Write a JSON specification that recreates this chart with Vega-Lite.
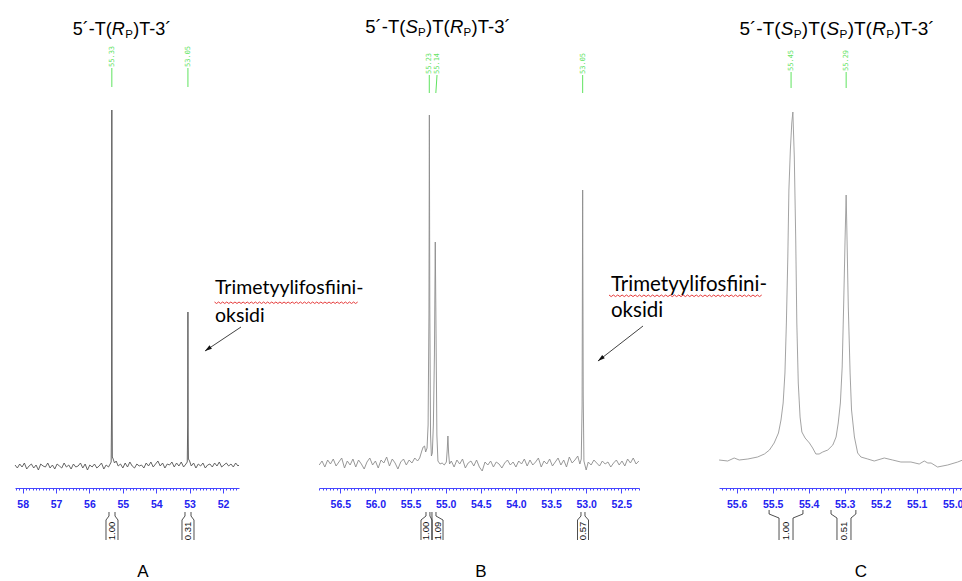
{
"$schema": "https://vega.github.io/schema/vega-lite/v6.json",
"padding": {"left": 13, "top": 0, "right": 0, "bottom": 0},
"autosize": {"type": "pad"},
"spacing": 80,
"bounds": "flush",
"resolve": {"scale": {"x": "independent", "y": "independent"}},
"config": {
  "view": {"stroke": null},
  "font": "Liberation Sans",
  "axisX": {"domainColor": "#4646ff", "tickColor": "#4646ff", "labelColor": "#2323f0", "labelFont": "Liberation Sans", "labelFontWeight": "bold", "labelFontSize": 10.5, "grid": false, "labelOverlap": false, "labelFlush": false, "labelPadding": 6, "domainWidth": 1, "tickWidth": 1}
},
"datasets": {
  "specA": [{"p":58.23,"v":0},{"p":58.16,"v":-3},{"p":58.09,"v":1},{"p":58.02,"v":-2},{"p":57.95,"v":2},{"p":57.88,"v":-4},{"p":57.81,"v":-1},{"p":57.74,"v":1},{"p":57.67,"v":-3},{"p":57.60,"v":0},{"p":57.53,"v":-5},{"p":57.46,"v":1},{"p":57.39,"v":-1},{"p":57.32,"v":-2},{"p":57.25,"v":2},{"p":57.18,"v":-3},{"p":57.11,"v":0},{"p":57.04,"v":-4},{"p":56.97,"v":1},{"p":56.90,"v":-1},{"p":56.83,"v":-3},{"p":56.76,"v":2},{"p":56.69,"v":-2},{"p":56.62,"v":0},{"p":56.55,"v":-4},{"p":56.48,"v":1},{"p":56.41,"v":-2},{"p":56.34,"v":-1},{"p":56.27,"v":2},{"p":56.20,"v":-3},{"p":56.13,"v":1},{"p":56.06,"v":-5},{"p":55.99,"v":0},{"p":55.92,"v":-2},{"p":55.85,"v":1},{"p":55.78,"v":-3},{"p":55.71,"v":-1},{"p":55.64,"v":2},{"p":55.57,"v":-4},{"p":55.50,"v":0},{"p":55.43,"v":-2},{"p":55.38,"v":1},{"p":55.35,"v":3},{"p":55.337,"v":60},{"p":55.33,"v":355},{"p":55.323,"v":80},{"p":55.315,"v":8},{"p":55.29,"v":6},{"p":55.25,"v":2},{"p":55.20,"v":4},{"p":55.14,"v":-1},{"p":55.07,"v":1},{"p":55.00,"v":-3},{"p":54.93,"v":2},{"p":54.86,"v":-2},{"p":54.79,"v":3},{"p":54.72,"v":-1},{"p":54.65,"v":-3},{"p":54.58,"v":1},{"p":54.51,"v":-1},{"p":54.44,"v":0},{"p":54.37,"v":-3},{"p":54.30,"v":2},{"p":54.23,"v":-1},{"p":54.16,"v":3},{"p":54.09,"v":-2},{"p":54.02,"v":1},{"p":53.95,"v":4},{"p":53.88,"v":-1},{"p":53.81,"v":2},{"p":53.74,"v":-3},{"p":53.67,"v":1},{"p":53.60,"v":0},{"p":53.53,"v":3},{"p":53.46,"v":-2},{"p":53.39,"v":2},{"p":53.32,"v":-1},{"p":53.25,"v":3},{"p":53.18,"v":-2},{"p":53.11,"v":1},{"p":53.07,"v":3},{"p":53.057,"v":40},{"p":53.05,"v":153},{"p":53.043,"v":35},{"p":53.035,"v":6},{"p":53.00,"v":4},{"p":52.95,"v":-1},{"p":52.88,"v":2},{"p":52.81,"v":-3},{"p":52.74,"v":1},{"p":52.67,"v":-1},{"p":52.60,"v":2},{"p":52.53,"v":-3},{"p":52.46,"v":0},{"p":52.39,"v":1},{"p":52.32,"v":-2},{"p":52.25,"v":2},{"p":52.18,"v":-1},{"p":52.11,"v":3},{"p":52.04,"v":-2},{"p":51.97,"v":0},{"p":51.90,"v":2},{"p":51.83,"v":-1},{"p":51.76,"v":1},{"p":51.69,"v":-2},{"p":51.62,"v":2},{"p":51.55,"v":-1},{"p":51.52,"v":0}],
  "specB": [{"p":56.80,"v":0},{"p":56.76,"v":4},{"p":56.72,"v":-2},{"p":56.68,"v":5},{"p":56.64,"v":1},{"p":56.60,"v":6},{"p":56.56,"v":-1},{"p":56.52,"v":3},{"p":56.48,"v":7},{"p":56.44,"v":-3},{"p":56.40,"v":4},{"p":56.36,"v":0},{"p":56.32,"v":6},{"p":56.28,"v":-2},{"p":56.24,"v":5},{"p":56.20,"v":1},{"p":56.16,"v":-4},{"p":56.12,"v":3},{"p":56.08,"v":7},{"p":56.04,"v":0},{"p":56.00,"v":4},{"p":55.96,"v":-3},{"p":55.92,"v":5},{"p":55.88,"v":2},{"p":55.84,"v":8},{"p":55.80,"v":-1},{"p":55.76,"v":6},{"p":55.72,"v":2},{"p":55.68,"v":-4},{"p":55.64,"v":3},{"p":55.60,"v":6},{"p":55.56,"v":0},{"p":55.52,"v":5},{"p":55.48,"v":2},{"p":55.44,"v":7},{"p":55.40,"v":4},{"p":55.37,"v":7},{"p":55.34,"v":14},{"p":55.32,"v":18},{"p":55.30,"v":19},{"p":55.285,"v":13},{"p":55.265,"v":17},{"p":55.25,"v":40},{"p":55.238,"v":150},{"p":55.232,"v":350},{"p":55.226,"v":160},{"p":55.215,"v":30},{"p":55.203,"v":9},{"p":55.19,"v":12},{"p":55.175,"v":40},{"p":55.16,"v":110},{"p":55.148,"v":223},{"p":55.138,"v":140},{"p":55.125,"v":30},{"p":55.11,"v":4},{"p":55.08,"v":1},{"p":55.05,"v":2},{"p":55.02,"v":0},{"p":54.99,"v":3},{"p":54.978,"v":15},{"p":54.968,"v":29},{"p":54.958,"v":12},{"p":54.945,"v":1},{"p":54.92,"v":4},{"p":54.88,"v":-2},{"p":54.84,"v":5},{"p":54.80,"v":1},{"p":54.76,"v":6},{"p":54.72,"v":-3},{"p":54.68,"v":2},{"p":54.64,"v":4},{"p":54.60,"v":-1},{"p":54.56,"v":5},{"p":54.52,"v":-2},{"p":54.48,"v":-6},{"p":54.44,"v":3},{"p":54.40,"v":0},{"p":54.36,"v":4},{"p":54.32,"v":-2},{"p":54.28,"v":3},{"p":54.24,"v":1},{"p":54.20,"v":-3},{"p":54.16,"v":2},{"p":54.12,"v":5},{"p":54.08,"v":0},{"p":54.04,"v":3},{"p":54.00,"v":-2},{"p":53.96,"v":4},{"p":53.92,"v":1},{"p":53.88,"v":6},{"p":53.84,"v":-1},{"p":53.80,"v":5},{"p":53.76,"v":0},{"p":53.72,"v":3},{"p":53.68,"v":7},{"p":53.64,"v":-2},{"p":53.60,"v":4},{"p":53.56,"v":1},{"p":53.52,"v":6},{"p":53.48,"v":-1},{"p":53.44,"v":3},{"p":53.40,"v":7},{"p":53.36,"v":0},{"p":53.32,"v":5},{"p":53.28,"v":-2},{"p":53.24,"v":8},{"p":53.20,"v":2},{"p":53.16,"v":5},{"p":53.12,"v":9},{"p":53.09,"v":1},{"p":53.07,"v":6},{"p":53.058,"v":60},{"p":53.05,"v":275},{"p":53.042,"v":70},{"p":53.032,"v":4},{"p":53.00,"v":-5},{"p":52.97,"v":3},{"p":52.93,"v":0},{"p":52.89,"v":5},{"p":52.85,"v":2},{"p":52.81,"v":-1},{"p":52.77,"v":4},{"p":52.73,"v":1},{"p":52.69,"v":3},{"p":52.65,"v":-2},{"p":52.61,"v":2},{"p":52.57,"v":5},{"p":52.53,"v":0},{"p":52.49,"v":4},{"p":52.45,"v":-1},{"p":52.41,"v":6},{"p":52.37,"v":2},{"p":52.33,"v":7},{"p":52.29,"v":1},{"p":52.25,"v":4}],
  "specC": [{"p":55.649,"v":5},{"p":55.625,"v":4},{"p":55.607,"v":7},{"p":55.593,"v":5},{"p":55.569,"v":6},{"p":55.542,"v":8},{"p":55.523,"v":11},{"p":55.509,"v":15},{"p":55.496,"v":22},{"p":55.484,"v":32},{"p":55.477,"v":45},{"p":55.471,"v":62},{"p":55.466,"v":92},{"p":55.462,"v":142},{"p":55.458,"v":208},{"p":55.455,"v":275},{"p":55.451,"v":315},{"p":55.447,"v":342},{"p":55.444,"v":353},{"p":55.440,"v":308},{"p":55.436,"v":225},{"p":55.433,"v":142},{"p":55.429,"v":82},{"p":55.424,"v":48},{"p":55.419,"v":33},{"p":55.410,"v":27},{"p":55.398,"v":22},{"p":55.389,"v":17},{"p":55.380,"v":11},{"p":55.371,"v":11},{"p":55.361,"v":13},{"p":55.347,"v":15},{"p":55.333,"v":20},{"p":55.324,"v":28},{"p":55.318,"v":42},{"p":55.312,"v":62},{"p":55.307,"v":98},{"p":55.303,"v":158},{"p":55.299,"v":225},{"p":55.296,"v":270},{"p":55.294,"v":235},{"p":55.290,"v":158},{"p":55.285,"v":92},{"p":55.281,"v":55},{"p":55.273,"v":28},{"p":55.264,"v":12},{"p":55.255,"v":8},{"p":55.236,"v":6},{"p":55.218,"v":4},{"p":55.190,"v":7},{"p":55.167,"v":5},{"p":55.144,"v":3},{"p":55.116,"v":3},{"p":55.093,"v":1},{"p":55.079,"v":4},{"p":55.069,"v":2},{"p":55.060,"v":2},{"p":55.042,"v":-2},{"p":55.014,"v":0},{"p":54.986,"v":3},{"p":54.972,"v":5},{"p":54.956,"v":6}],
  "peaksA": [{"p":55.33,"lp":55.33,"t":"55.33"},{"p":53.05,"lp":53.05,"t":"53.05"}],
  "peaksB": [{"p":55.233,"lp":55.233,"t":"55.23"},{"p":55.14,"lp":55.123,"t":"55.14"},{"p":53.05,"lp":53.05,"t":"53.05"}],
  "peaksC": [{"p":55.449,"lp":55.449,"t":"55.45"},{"p":55.296,"lp":55.296,"t":"55.29"}],
  "intA": [{"from":55.415,"to":55.235,"c":55.325,"t":"1.00"},{"from":53.138,"to":52.958,"c":53.048,"t":"0.31"}],
  "intB": [{"from":55.28,"to":55.224,"c":55.273,"t":"1.00"},{"from":55.195,"to":55.138,"c":55.116,"t":"1.09"},{"from":53.074,"to":53.017,"c":53.045,"t":"0.57"}],
  "intC": [{"from":55.51,"to":55.416,"c":55.463,"t":"1.00"},{"from":55.338,"to":55.269,"c":55.302,"t":"0.51"}],
  "titleA": [{"p":55.329,"v":430}],
  "titleB": [{"p":55.573,"v":432}],
  "titleC": [{"p":55.478,"v":430}]
},
"hconcat": [
{
  "width": 224, "height": 488,
  "layer": [
    {"data":{"name":"specA"},"mark":{"type":"line","stroke":"#555555","strokeWidth":0.9},
     "encoding":{"x":{"field":"p","type":"quantitative","scale":{"domain":[51.52,58.231],"reverse":true,"nice":false,"zero":false},
       "axis":{"title":null,"tickCount":70,"labelExpr":"datum.value % 1 === 0 ? format(datum.value, 'd') : ''","tickSize":{"condition":{"test":"datum.value % 1 === 0","value":5},"value":2}}},
       "y":{"field":"v","type":"quantitative","scale":{"domain":[-23,465],"nice":false,"zero":false},"axis":null}}},
    {"data":{"name":"peaksA"},"mark":{"type":"text","angle":270,"align":"left","baseline":"middle","font":"DejaVu Sans Mono","fontSize":7,"fill":"#5fe35f"},
     "encoding":{"x":{"field":"lp","type":"quantitative"},"y":{"datum":398,"type":"quantitative","axis":null},"text":{"field":"t","type":"nominal"}}},
    {"data":{"name":"peaksA"},"mark":{"type":"rule","stroke":"#5fe35f","strokeWidth":1},
     "encoding":{"x":{"field":"lp","type":"quantitative"},"x2":{"field":"p"},"y":{"datum":397,"type":"quantitative","axis":null},"y2":{"datum":378}}},
    {"data":{"name":"intA"},"mark":{"type":"rule","stroke":"#222","strokeWidth":0.8},
     "encoding":{"x":{"field":"from","type":"quantitative"},"y":{"datum":-47,"type":"quantitative","axis":null},"y2":{"datum":-51}}},
    {"data":{"name":"intA"},"mark":{"type":"rule","stroke":"#222","strokeWidth":0.8},
     "encoding":{"x":{"field":"to","type":"quantitative"},"y":{"datum":-47,"type":"quantitative","axis":null},"y2":{"datum":-51}}},
    {"data":{"name":"intA"},"mark":{"type":"rule","stroke":"#222","strokeWidth":0.8,"x2Offset":-6},
     "encoding":{"x":{"field":"from","type":"quantitative"},"x2":{"field":"c"},"y":{"datum":-51,"type":"quantitative","axis":null},"y2":{"datum":-55}}},
    {"data":{"name":"intA"},"mark":{"type":"rule","stroke":"#222","strokeWidth":0.8,"x2Offset":6},
     "encoding":{"x":{"field":"to","type":"quantitative"},"x2":{"field":"c"},"y":{"datum":-51,"type":"quantitative","axis":null},"y2":{"datum":-55}}},
    {"data":{"name":"intA"},"mark":{"type":"rule","stroke":"#222","strokeWidth":0.8,"xOffset":-6,"x2Offset":-6},
     "encoding":{"x":{"field":"c","type":"quantitative"},"x2":{"field":"c"},"y":{"datum":-55,"type":"quantitative","axis":null},"y2":{"datum":-75}}},
    {"data":{"name":"intA"},"mark":{"type":"rule","stroke":"#222","strokeWidth":0.8,"xOffset":6,"x2Offset":6},
     "encoding":{"x":{"field":"c","type":"quantitative"},"x2":{"field":"c"},"y":{"datum":-55,"type":"quantitative","axis":null},"y2":{"datum":-75}}},
    {"data":{"name":"intA"},"mark":{"type":"text","angle":270,"align":"center","baseline":"middle","fontSize":9.5,"fill":"#111"},
     "encoding":{"x":{"field":"c","type":"quantitative"},"y":{"datum":-66,"type":"quantitative","axis":null},"text":{"field":"t","type":"nominal"}}},
    {"data":{"name":"titleA"},"mark":{"type":"text","text":"5´-T(","align":"right","baseline":"alphabetic","fontSize":18,"fill":"#000"},
     "encoding":{"x":{"field":"p","type":"quantitative"},"y":{"field":"v","type":"quantitative","axis":null}}},
    {"data":{"name":"titleA"},"mark":{"type":"text","text":"R","fontStyle":"italic","align":"left","baseline":"alphabetic","fontSize":18,"fill":"#000"},
     "encoding":{"x":{"field":"p","type":"quantitative"},"y":{"field":"v","type":"quantitative","axis":null}}},
    {"data":{"name":"titleA"},"mark":{"type":"text","text":"P","align":"left","baseline":"alphabetic","fontSize":11.5,"dx":13.3,"dy":3,"fill":"#000"},
     "encoding":{"x":{"field":"p","type":"quantitative"},"y":{"field":"v","type":"quantitative","axis":null}}},
    {"data":{"name":"titleA"},"mark":{"type":"text","text":")T-3´","align":"left","baseline":"alphabetic","fontSize":18,"dx":21.3,"fill":"#000"},
     "encoding":{"x":{"field":"p","type":"quantitative"},"y":{"field":"v","type":"quantitative","axis":null}}},
    {"data":{"values":[{"p":54.396,"v":-112,"t":"A"}]},"mark":{"type":"text","align":"center","baseline":"alphabetic","fontSize":17,"fill":"#000"},
     "encoding":{"x":{"field":"p","type":"quantitative"},"y":{"field":"v","type":"quantitative","axis":null},"text":{"field":"t","type":"nominal"}}},
    {"data":{"values":[{"p":52.239,"v":171,"t":"Trimetyylifosfiini-"},{"p":52.239,"v":143,"t":"oksidi"}]},"mark":{"type":"text","align":"left","baseline":"alphabetic","font":"Lato","fontSize":19.5,"fill":"#000"},
     "encoding":{"x":{"field":"p","type":"quantitative"},"y":{"field":"v","type":"quantitative","axis":null},"text":{"field":"t","type":"nominal"}}},
    {"data":{"values":[{"p":50.232,"v":163}]},"mark":{"type":"point","shape":"M-1,0l.0303,.022l.0303,-.022l.0303,.022l.0303,-.022l.0303,.022l.0303,-.022l.0303,.022l.0303,-.022l.0303,.022l.0303,-.022l.0303,.022l.0303,-.022l.0303,.022l.0303,-.022l.0303,.022l.0303,-.022l.0303,.022l.0303,-.022l.0303,.022l.0303,-.022l.0303,.022l.0303,-.022l.0303,.022l.0303,-.022l.0303,.022l.0303,-.022l.0303,.022l.0303,-.022l.0303,.022l.0303,-.022l.0303,.022l.0303,-.022l.0303,.022l.0303,-.022l.0303,.022l.0303,-.022l.0303,.022l.0303,-.022l.0303,.022l.0303,-.022l.0303,.022l.0303,-.022l.0303,.022l.0303,-.022l.0303,.022l.0303,-.022l.0303,.022l.0303,-.022l.0303,.022l.0303,-.022l.0303,.022l.0303,-.022l.0303,.022l.0303,-.022l.0303,.022l.0303,-.022l.0303,.022l.0303,-.022l.0303,.022l.0303,-.022l.0303,.022l.0303,-.022l.0303,.022l.0303,-.022l.0303,.022l.0303,-.022l.0303,.022l.0303,-.022l.0303,.022l.0303,-.022","size":18225,"filled":false,"stroke":"#e63a3a","strokeWidth":1,"opacity":1},
     "encoding":{"x":{"field":"p","type":"quantitative"},"y":{"field":"v","type":"quantitative","axis":null}}},
    {"data":{"values":[{"p1":51.46,"v1":138,"p2":52.539,"v2":114}]},"mark":{"type":"rule","stroke":"#111","strokeWidth":0.8},
     "encoding":{"x":{"field":"p1","type":"quantitative"},"x2":{"field":"p2"},"y":{"field":"v1","type":"quantitative","axis":null},"y2":{"field":"v2"}}},
    {"data":{"values":[{"p":52.539,"v":114}]},"mark":{"type":"point","shape":"M0,0L-0.6,2L0.6,2Z","size":49,"angle":235,"filled":true,"fill":"#111","strokeWidth":0,"opacity":1},
     "encoding":{"x":{"field":"p","type":"quantitative"},"y":{"field":"v","type":"quantitative","axis":null}}}
  ]
},
{
  "width": 320, "height": 488,
  "layer": [
    {"data":{"name":"specB"},"mark":{"type":"line","stroke":"#8c8c8c","strokeWidth":0.9},
     "encoding":{"x":{"field":"p","type":"quantitative","scale":{"domain":[52.248,56.803],"reverse":true,"nice":false,"zero":false},
       "axis":{"title":null,"tickCount":90,"labelExpr":"(datum.value * 2) % 1 === 0 ? format(datum.value, '.1f') : ''","tickSize":{"condition":{"test":"(datum.value * 2) % 1 === 0","value":5},"value":2}}},
       "y":{"field":"v","type":"quantitative","scale":{"domain":[-23,465],"nice":false,"zero":false},"axis":null}}},
    {"data":{"name":"peaksB"},"mark":{"type":"text","angle":270,"align":"left","baseline":"middle","font":"DejaVu Sans Mono","fontSize":7,"fill":"#5fe35f"},
     "encoding":{"x":{"field":"lp","type":"quantitative"},"y":{"datum":391,"type":"quantitative","axis":null},"text":{"field":"t","type":"nominal"}}},
    {"data":{"name":"peaksB"},"mark":{"type":"rule","stroke":"#5fe35f","strokeWidth":1},
     "encoding":{"x":{"field":"lp","type":"quantitative"},"x2":{"field":"p"},"y":{"datum":390,"type":"quantitative","axis":null},"y2":{"datum":372}}},
    {"data":{"name":"intB"},"mark":{"type":"rule","stroke":"#222","strokeWidth":0.8},
     "encoding":{"x":{"field":"from","type":"quantitative"},"y":{"datum":-47,"type":"quantitative","axis":null},"y2":{"datum":-51}}},
    {"data":{"name":"intB"},"mark":{"type":"rule","stroke":"#222","strokeWidth":0.8},
     "encoding":{"x":{"field":"to","type":"quantitative"},"y":{"datum":-47,"type":"quantitative","axis":null},"y2":{"datum":-51}}},
    {"data":{"name":"intB"},"mark":{"type":"rule","stroke":"#222","strokeWidth":0.8,"x2Offset":-5.5},
     "encoding":{"x":{"field":"from","type":"quantitative"},"x2":{"field":"c"},"y":{"datum":-51,"type":"quantitative","axis":null},"y2":{"datum":-55}}},
    {"data":{"name":"intB"},"mark":{"type":"rule","stroke":"#222","strokeWidth":0.8,"x2Offset":5.5},
     "encoding":{"x":{"field":"to","type":"quantitative"},"x2":{"field":"c"},"y":{"datum":-51,"type":"quantitative","axis":null},"y2":{"datum":-55}}},
    {"data":{"name":"intB"},"mark":{"type":"rule","stroke":"#222","strokeWidth":0.8,"xOffset":-5.5,"x2Offset":-5.5},
     "encoding":{"x":{"field":"c","type":"quantitative"},"x2":{"field":"c"},"y":{"datum":-55,"type":"quantitative","axis":null},"y2":{"datum":-75}}},
    {"data":{"name":"intB"},"mark":{"type":"rule","stroke":"#222","strokeWidth":0.8,"xOffset":5.5,"x2Offset":5.5},
     "encoding":{"x":{"field":"c","type":"quantitative"},"x2":{"field":"c"},"y":{"datum":-55,"type":"quantitative","axis":null},"y2":{"datum":-75}}},
    {"data":{"name":"intB"},"mark":{"type":"text","angle":270,"align":"center","baseline":"middle","fontSize":9.5,"fill":"#111"},
     "encoding":{"x":{"field":"c","type":"quantitative"},"y":{"datum":-66,"type":"quantitative","axis":null},"text":{"field":"t","type":"nominal"}}},
    {"data":{"name":"titleB"},"mark":{"type":"text","text":"5´-T(","align":"right","baseline":"alphabetic","fontSize":18.5,"fill":"#000"},
     "encoding":{"x":{"field":"p","type":"quantitative"},"y":{"field":"v","type":"quantitative","axis":null}}},
    {"data":{"name":"titleB"},"mark":{"type":"text","text":"S","fontStyle":"italic","align":"left","baseline":"alphabetic","fontSize":18.5,"fill":"#000"},
     "encoding":{"x":{"field":"p","type":"quantitative"},"y":{"field":"v","type":"quantitative","axis":null}}},
    {"data":{"name":"titleB"},"mark":{"type":"text","text":"P","align":"left","baseline":"alphabetic","fontSize":11.5,"dx":12.6,"dy":3,"fill":"#000"},
     "encoding":{"x":{"field":"p","type":"quantitative"},"y":{"field":"v","type":"quantitative","axis":null}}},
    {"data":{"name":"titleB"},"mark":{"type":"text","text":")T(","align":"left","baseline":"alphabetic","fontSize":18.5,"dx":20.6,"fill":"#000"},
     "encoding":{"x":{"field":"p","type":"quantitative"},"y":{"field":"v","type":"quantitative","axis":null}}},
    {"data":{"name":"titleB"},"mark":{"type":"text","text":"R","fontStyle":"italic","align":"left","baseline":"alphabetic","fontSize":18.5,"dx":44.5,"fill":"#000"},
     "encoding":{"x":{"field":"p","type":"quantitative"},"y":{"field":"v","type":"quantitative","axis":null}}},
    {"data":{"name":"titleB"},"mark":{"type":"text","text":"P","align":"left","baseline":"alphabetic","fontSize":11.5,"dx":58.2,"dy":3,"fill":"#000"},
     "encoding":{"x":{"field":"p","type":"quantitative"},"y":{"field":"v","type":"quantitative","axis":null}}},
    {"data":{"name":"titleB"},"mark":{"type":"text","text":")T-3´","align":"left","baseline":"alphabetic","fontSize":18.5,"dx":66.2,"fill":"#000"},
     "encoding":{"x":{"field":"p","type":"quantitative"},"y":{"field":"v","type":"quantitative","axis":null}}},
    {"data":{"values":[{"p":54.497,"v":-112,"t":"B"}]},"mark":{"type":"text","align":"center","baseline":"alphabetic","fontSize":17,"fill":"#000"},
     "encoding":{"x":{"field":"p","type":"quantitative"},"y":{"field":"v","type":"quantitative","axis":null},"text":{"field":"t","type":"nominal"}}},
    {"data":{"values":[{"p":52.647,"v":174,"t":"Trimetyylifosfiini-"},{"p":52.647,"v":148,"t":"oksidi"}]},"mark":{"type":"text","align":"left","baseline":"alphabetic","font":"Lato","fontSize":20.5,"fill":"#000"},
     "encoding":{"x":{"field":"p","type":"quantitative"},"y":{"field":"v","type":"quantitative","axis":null},"text":{"field":"t","type":"nominal"}}},
    {"data":{"values":[{"p":51.65,"v":170}]},"mark":{"type":"point","shape":"M-1,0l.0303,.022l.0303,-.022l.0303,.022l.0303,-.022l.0303,.022l.0303,-.022l.0303,.022l.0303,-.022l.0303,.022l.0303,-.022l.0303,.022l.0303,-.022l.0303,.022l.0303,-.022l.0303,.022l.0303,-.022l.0303,.022l.0303,-.022l.0303,.022l.0303,-.022l.0303,.022l.0303,-.022l.0303,.022l.0303,-.022l.0303,.022l.0303,-.022l.0303,.022l.0303,-.022l.0303,.022l.0303,-.022l.0303,.022l.0303,-.022l.0303,.022l.0303,-.022l.0303,.022l.0303,-.022l.0303,.022l.0303,-.022l.0303,.022l.0303,-.022l.0303,.022l.0303,-.022l.0303,.022l.0303,-.022l.0303,.022l.0303,-.022l.0303,.022l.0303,-.022l.0303,.022l.0303,-.022l.0303,.022l.0303,-.022l.0303,.022l.0303,-.022l.0303,.022l.0303,-.022l.0303,.022l.0303,-.022l.0303,.022l.0303,-.022l.0303,.022l.0303,-.022l.0303,.022l.0303,-.022l.0303,.022l.0303,-.022l.0303,.022l.0303,-.022l.0303,.022l.0303,-.022","size":20736,"filled":false,"stroke":"#e63a3a","strokeWidth":1,"opacity":1},
     "encoding":{"x":{"field":"p","type":"quantitative"},"y":{"field":"v","type":"quantitative","axis":null}}},
    {"data":{"values":[{"p1":52.191,"v1":139,"p2":52.832,"v2":104}]},"mark":{"type":"rule","stroke":"#111","strokeWidth":0.8},
     "encoding":{"x":{"field":"p1","type":"quantitative"},"x2":{"field":"p2"},"y":{"field":"v1","type":"quantitative","axis":null},"y2":{"field":"v2"}}},
    {"data":{"values":[{"p":52.832,"v":104}]},"mark":{"type":"point","shape":"M0,0L-0.6,2L0.6,2Z","size":49,"angle":232,"filled":true,"fill":"#111","strokeWidth":0,"opacity":1},
     "encoding":{"x":{"field":"p","type":"quantitative"},"y":{"field":"v","type":"quantitative","axis":null}}}
  ]
},
{
  "width": 250, "height": 488,
  "layer": [
    {"data":{"name":"specC"},"mark":{"type":"line","stroke":"#999999","strokeWidth":0.9},
     "encoding":{"x":{"field":"p","type":"quantitative","scale":{"domain":[54.9547,55.6492],"reverse":true,"nice":false,"zero":false},
       "axis":{"title":null,"tickCount":68,"labelExpr":"abs(datum.value * 10 - round(datum.value * 10)) < 0.000001 ? format(datum.value, '.1f') : ''","tickSize":{"condition":{"test":"abs(datum.value * 10 - round(datum.value * 10)) < 0.000001","value":5},"value":2}}},
       "y":{"field":"v","type":"quantitative","scale":{"domain":[-23,465],"nice":false,"zero":false},"axis":null}}},
    {"data":{"name":"peaksC"},"mark":{"type":"text","angle":270,"align":"left","baseline":"middle","font":"DejaVu Sans Mono","fontSize":7,"fill":"#5fe35f"},
     "encoding":{"x":{"field":"lp","type":"quantitative"},"y":{"datum":394,"type":"quantitative","axis":null},"text":{"field":"t","type":"nominal"}}},
    {"data":{"name":"peaksC"},"mark":{"type":"rule","stroke":"#5fe35f","strokeWidth":1},
     "encoding":{"x":{"field":"lp","type":"quantitative"},"x2":{"field":"p"},"y":{"datum":393,"type":"quantitative","axis":null},"y2":{"datum":377}}},
    {"data":{"name":"intC"},"mark":{"type":"rule","stroke":"#222","strokeWidth":0.8},
     "encoding":{"x":{"field":"from","type":"quantitative"},"y":{"datum":-45,"type":"quantitative","axis":null},"y2":{"datum":-49}}},
    {"data":{"name":"intC"},"mark":{"type":"rule","stroke":"#222","strokeWidth":0.8},
     "encoding":{"x":{"field":"to","type":"quantitative"},"y":{"datum":-45,"type":"quantitative","axis":null},"y2":{"datum":-49}}},
    {"data":{"name":"intC"},"mark":{"type":"rule","stroke":"#222","strokeWidth":0.8,"x2Offset":-7},
     "encoding":{"x":{"field":"from","type":"quantitative"},"x2":{"field":"c"},"y":{"datum":-49,"type":"quantitative","axis":null},"y2":{"datum":-53}}},
    {"data":{"name":"intC"},"mark":{"type":"rule","stroke":"#222","strokeWidth":0.8,"x2Offset":7},
     "encoding":{"x":{"field":"to","type":"quantitative"},"x2":{"field":"c"},"y":{"datum":-49,"type":"quantitative","axis":null},"y2":{"datum":-53}}},
    {"data":{"name":"intC"},"mark":{"type":"rule","stroke":"#222","strokeWidth":0.8,"xOffset":-7,"x2Offset":-7},
     "encoding":{"x":{"field":"c","type":"quantitative"},"x2":{"field":"c"},"y":{"datum":-53,"type":"quantitative","axis":null},"y2":{"datum":-75}}},
    {"data":{"name":"intC"},"mark":{"type":"rule","stroke":"#222","strokeWidth":0.8,"xOffset":7,"x2Offset":7},
     "encoding":{"x":{"field":"c","type":"quantitative"},"x2":{"field":"c"},"y":{"datum":-53,"type":"quantitative","axis":null},"y2":{"datum":-75}}},
    {"data":{"name":"intC"},"mark":{"type":"text","angle":270,"align":"center","baseline":"middle","fontSize":9.5,"fill":"#111"},
     "encoding":{"x":{"field":"c","type":"quantitative"},"y":{"datum":-66,"type":"quantitative","axis":null},"text":{"field":"t","type":"nominal"}}},
    {"data":{"name":"titleC"},"mark":{"type":"text","text":"5´-T(","align":"right","baseline":"alphabetic","fontSize":19,"fill":"#000"},
     "encoding":{"x":{"field":"p","type":"quantitative"},"y":{"field":"v","type":"quantitative","axis":null}}},
    {"data":{"name":"titleC"},"mark":{"type":"text","text":"S","fontStyle":"italic","align":"left","baseline":"alphabetic","fontSize":19,"fill":"#000"},
     "encoding":{"x":{"field":"p","type":"quantitative"},"y":{"field":"v","type":"quantitative","axis":null}}},
    {"data":{"name":"titleC"},"mark":{"type":"text","text":"P","align":"left","baseline":"alphabetic","fontSize":11.8,"dx":13,"dy":3,"fill":"#000"},
     "encoding":{"x":{"field":"p","type":"quantitative"},"y":{"field":"v","type":"quantitative","axis":null}}},
    {"data":{"name":"titleC"},"mark":{"type":"text","text":")T(","align":"left","baseline":"alphabetic","fontSize":19,"dx":21.2,"fill":"#000"},
     "encoding":{"x":{"field":"p","type":"quantitative"},"y":{"field":"v","type":"quantitative","axis":null}}},
    {"data":{"name":"titleC"},"mark":{"type":"text","text":"S","fontStyle":"italic","align":"left","baseline":"alphabetic","fontSize":19,"dx":45.8,"fill":"#000"},
     "encoding":{"x":{"field":"p","type":"quantitative"},"y":{"field":"v","type":"quantitative","axis":null}}},
    {"data":{"name":"titleC"},"mark":{"type":"text","text":"P","align":"left","baseline":"alphabetic","fontSize":11.8,"dx":58.8,"dy":3,"fill":"#000"},
     "encoding":{"x":{"field":"p","type":"quantitative"},"y":{"field":"v","type":"quantitative","axis":null}}},
    {"data":{"name":"titleC"},"mark":{"type":"text","text":")T(","align":"left","baseline":"alphabetic","fontSize":19,"dx":67,"fill":"#000"},
     "encoding":{"x":{"field":"p","type":"quantitative"},"y":{"field":"v","type":"quantitative","axis":null}}},
    {"data":{"name":"titleC"},"mark":{"type":"text","text":"R","fontStyle":"italic","align":"left","baseline":"alphabetic","fontSize":19,"dx":91.6,"fill":"#000"},
     "encoding":{"x":{"field":"p","type":"quantitative"},"y":{"field":"v","type":"quantitative","axis":null}}},
    {"data":{"name":"titleC"},"mark":{"type":"text","text":"P","align":"left","baseline":"alphabetic","fontSize":11.8,"dx":105.6,"dy":3,"fill":"#000"},
     "encoding":{"x":{"field":"p","type":"quantitative"},"y":{"field":"v","type":"quantitative","axis":null}}},
    {"data":{"name":"titleC"},"mark":{"type":"text","text":")T-3´","align":"left","baseline":"alphabetic","fontSize":19,"dx":113.8,"fill":"#000"},
     "encoding":{"x":{"field":"p","type":"quantitative"},"y":{"field":"v","type":"quantitative","axis":null}}},
    {"data":{"values":[{"p":55.255,"v":-112,"t":"C"}]},"mark":{"type":"text","align":"center","baseline":"alphabetic","fontSize":17,"fill":"#000"},
     "encoding":{"x":{"field":"p","type":"quantitative"},"y":{"field":"v","type":"quantitative","axis":null},"text":{"field":"t","type":"nominal"}}}
  ]
}
]
}
